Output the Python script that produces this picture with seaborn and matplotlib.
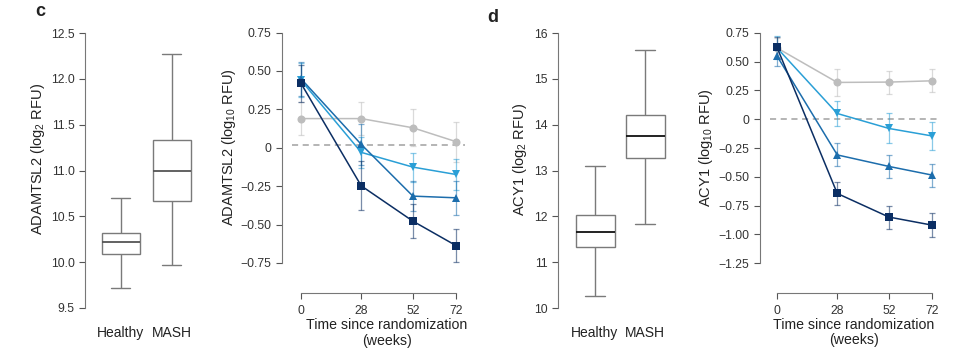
import matplotlib
matplotlib.use("Agg")
import matplotlib.pyplot as plt
import numpy as np
import pandas as pd
import seaborn as sns

# box plot summaries: [min, Q1, median, Q3, max]
groups = ["Healthy", "MASH"]
adamtsl2_healthy = [9.72, 10.09, 10.22, 10.32, 10.70]
adamtsl2_mash = [9.97, 10.67, 11.00, 11.33, 12.27]
acy1_healthy = [10.27, 11.33, 11.65, 12.03, 13.10]
acy1_mash = [11.83, 13.27, 13.76, 14.21, 15.64]

# longitudinal means and error over time
weeks = [0, 28, 52, 72]
arms = ["Placebo", "Dose 1", "Dose 2", "Dose 3"]
adamtsl2_mean = {
    "Placebo": [0.19, 0.19, 0.13, 0.04],
    "Dose 1": [0.44, -0.03, -0.126, -0.174],
    "Dose 2": [0.45, 0.022, -0.315, -0.326],
    "Dose 3": [0.42, -0.248, -0.478, -0.637],
}
adamtsl2_err = {
    "Placebo": [0.11, 0.11, 0.12, 0.13],
    "Dose 1": [0.11, 0.10, 0.095, 0.10],
    "Dose 2": [0.11, 0.135, 0.10, 0.11],
    "Dose 3": [0.12, 0.16, 0.11, 0.105],
}
acy1_mean = {
    "Placebo": [0.62, 0.32, 0.323, 0.334],
    "Dose 1": [0.62, 0.05, -0.08, -0.145],
    "Dose 2": [0.55, -0.31, -0.41, -0.485],
    "Dose 3": [0.625, -0.645, -0.85, -0.92],
}
acy1_err = {
    "Placebo": [0.09, 0.12, 0.10, 0.10],
    "Dose 1": [0.10, 0.11, 0.13, 0.12],
    "Dose 2": [0.09, 0.10, 0.10, 0.10],
    "Dose 3": [0.09, 0.10, 0.10, 0.105],
}
ref_line_c = 0.02
ref_line_d = 0.0

colors = {"Placebo": "#BDBDBD", "Dose 1": "#2A9FD6", "Dose 2": "#1C6DAC", "Dose 3": "#0B2E63"}
markers = {"Placebo": "o", "Dose 1": "v", "Dose 2": "^", "Dose 3": "s"}

sns.set_style("white")
plt.rcParams["font.family"] = ["Liberation Sans", "DejaVu Sans"]
plt.rcParams["text.color"] = "#222222"
plt.rcParams["axes.labelcolor"] = "#222222"
plt.rcParams["xtick.color"] = "#555555"
plt.rcParams["ytick.color"] = "#555555"
plt.rcParams["mathtext.fontset"] = "custom"
plt.rcParams["mathtext.rm"] = "Liberation Sans"
plt.rcParams["mathtext.it"] = "Liberation Sans:italic"

W, H = 960, 358
fig = plt.figure(figsize=(W / 100, H / 100), dpi=100)


def px_axes(left, top, right, bottom):
    return fig.add_axes([left / W, 1 - bottom / H, (right - left) / W, (bottom - top) / H])


def box_panel(ax, healthy, mash, ylim, yticks, ylabel, width, median_color):
    df = pd.DataFrame({
        "group": [groups[0]] * len(healthy) + [groups[1]] * len(mash),
        "value": healthy + mash,
    })
    sns.boxplot(data=df, x="group", y="value", ax=ax, whis=(0, 100), width=width,
                color="white", linecolor="#7a7a7a", linewidth=1.0,
                medianprops={"color": median_color, "linewidth": 1.3})
    for patch in ax.patches:
        patch.set_facecolor("white")
    ax.set_ylim(*ylim)
    ax.set_yticks(yticks)
    ax.set_xlabel("")
    ax.set_ylabel(ylabel, fontsize=10.5)
    ax.tick_params(axis="x", length=0, pad=13, labelsize=10, labelcolor="#222222")
    ax.tick_params(axis="y", length=4, width=0.8, labelsize=8.8, labelcolor="#333333", left=True)
    sns.despine(ax=ax, bottom=True)
    ax.spines["left"].set_color("#777777")
    ax.spines["left"].set_linewidth(0.8)


def line_panel(ax, means, errs, ylim, yticks, ytick_labels, ybounds, ylabel, ref):
    rows = []
    for arm in arms:
        for w, m in zip(weeks, means[arm]):
            rows.append({"week": w, "value": m, "arm": arm})
    df = pd.DataFrame(rows)
    ax.axhline(ref, color="#a0a0a0", lw=1.1, ls=(0, (4, 3)), zorder=1,
               xmin=(-4.2 - (-8.8)) / 85, xmax=1.0)
    for arm in arms:
        ax.errorbar(weeks, means[arm], yerr=errs[arm], fmt="none", ecolor=colors[arm],
                    alpha=0.55, elinewidth=0.9, capsize=2.5, capthick=0.9, zorder=2)
    sns.lineplot(data=df, x="week", y="value", hue="arm", style="arm", ax=ax,
                 palette=colors, markers=markers, dashes=False, linewidth=1.1,
                 markersize=5.8, markeredgewidth=0, legend=False, zorder=3)
    ax.set_xlim(-8.8, 76.2)
    ax.set_ylim(*ylim)
    ax.set_xticks(weeks)
    ax.set_yticks(yticks)
    ax.set_yticklabels(ytick_labels)
    ax.set_xlabel("Time since randomization\n(weeks)", fontsize=10.2, linespacing=1.15)
    ax.set_ylabel(ylabel, fontsize=10.5)
    ax.tick_params(axis="both", length=4, width=0.8, labelsize=8.8, labelcolor="#333333",
                   left=True, bottom=True)
    ax.tick_params(axis="x", pad=5)
    sns.despine(ax=ax)
    for s in ["left", "bottom"]:
        ax.spines[s].set_color("#777777")
        ax.spines[s].set_linewidth(0.8)
    ax.spines["left"].set_bounds(*ybounds)
    ax.spines["bottom"].set_bounds(0, 72)


def fmt_ticks(vals):
    out = []
    for v in vals:
        if v == 0:
            out.append("0")
        else:
            out.append(f"{v:.2f}".replace("-", "\u2212"))
    return out


# panel c
ax1 = px_axes(85, 33, 205, 308)
box_panel(ax1, adamtsl2_healthy, adamtsl2_mash, (9.5, 12.5),
          [9.5, 10.0, 10.5, 11.0, 11.5, 12.0, 12.5],
          "ADAMTSL2 (log$_2$ RFU)", 0.75, "#555555")
ax1.set_xlim(-0.7, 1.65)
ax1.yaxis.set_label_coords(-0.317, 0.54)

ax2 = px_axes(282, 28, 465, 293)
c_ticks = [0.75, 0.5, 0.25, 0, -0.25, -0.5, -0.75]
line_panel(ax2, adamtsl2_mean, adamtsl2_err, (-0.946, 0.78), c_ticks, fmt_ticks(c_ticks),
           (-0.75, 0.75), "ADAMTSL2 (log$_{10}$ RFU)", ref_line_c)
ax2.yaxis.set_label_coords(-0.24, 0.55)
ax2.xaxis.set_label_coords(0.574, -0.094)

# panel d
ax3 = px_axes(558, 33, 678, 308)
box_panel(ax3, acy1_healthy, acy1_mash, (10, 16), [10, 11, 12, 13, 14, 15, 16],
          "ACY1 (log$_2$ RFU)", 0.78, "#111111")
ax3.set_xlim(-0.74, 1.66)
ax3.yaxis.set_label_coords(-0.242, 0.54)

ax4 = px_axes(760, 29.5, 941, 293)
d_ticks = [0.75, 0.5, 0.25, 0, -0.25, -0.5, -0.75, -1.0, -1.25]
line_panel(ax4, acy1_mean, acy1_err, (-1.51, 0.78), d_ticks, fmt_ticks(d_ticks),
           (-1.25, 0.75), "ACY1 (log$_{10}$ RFU)", ref_line_d)
ax4.set_xlim(-7.9, 76.2)
ax4.yaxis.set_label_coords(-0.249, 0.55)
ax4.xaxis.set_label_coords(0.518, -0.094)

fig.text(35 / W, 1 - 11 / H, "c", fontsize=13, fontweight="bold", va="center", ha="left")
fig.text(487 / W, 1 - 18 / H, "d", fontsize=13, fontweight="bold", va="center", ha="left")

fig.savefig("out.png", dpi=100, facecolor="white")
